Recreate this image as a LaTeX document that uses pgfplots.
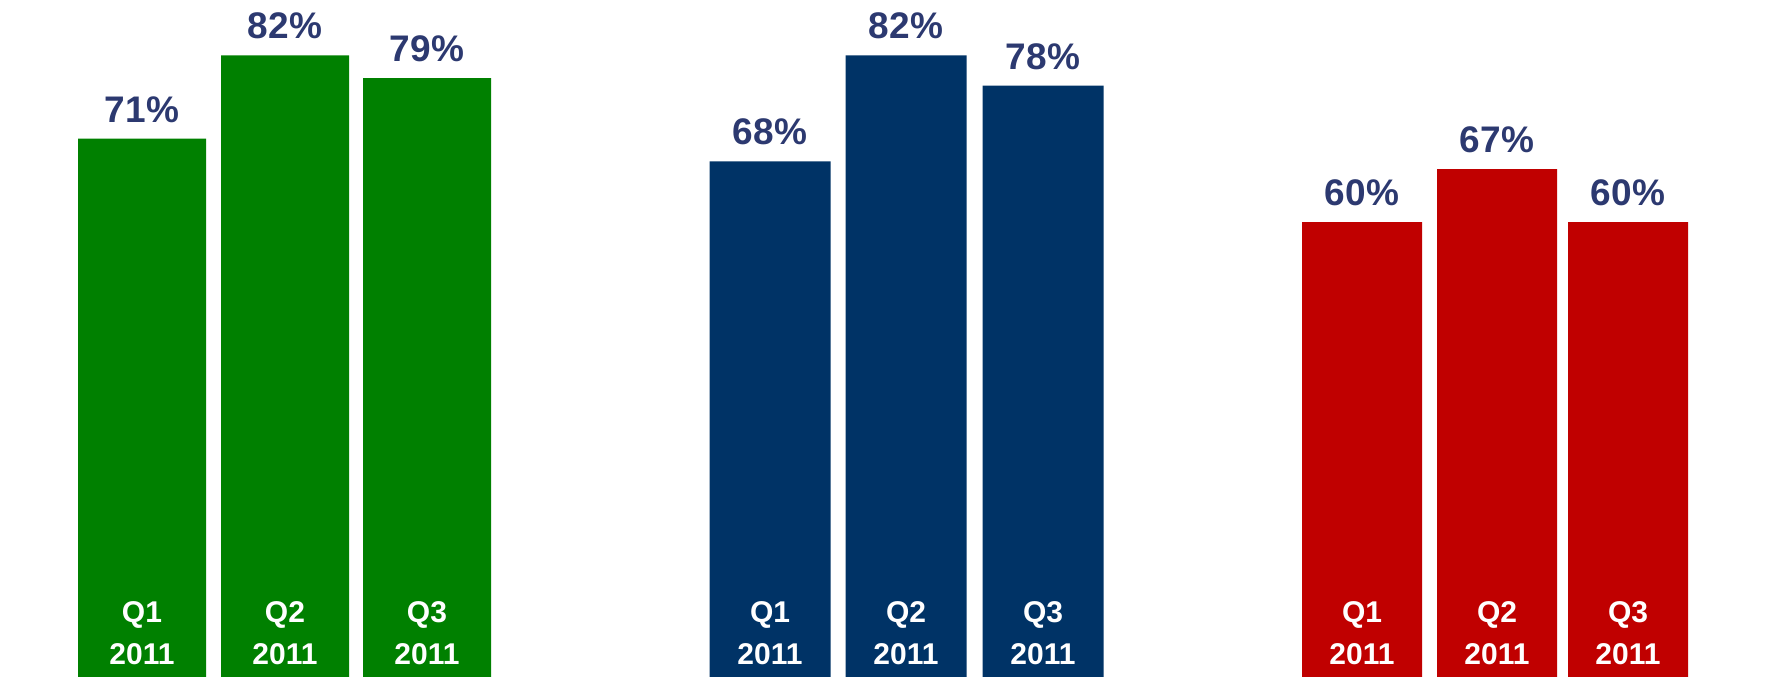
\documentclass[border=0pt]{standalone}
\usepackage{pgfplots}
\pgfplotsset{compat=1.18}
\usepackage{fontspec}
\setmainfont{Liberation Sans}
\definecolor{cgreen}{RGB}{0,128,0}
\definecolor{cnavy}{RGB}{0,51,102}
\definecolor{cred}{RGB}{192,0,0}
\definecolor{clab}{RGB}{44,57,112}
\begin{document}
\begin{tikzpicture}
\begin{axis}[
  width=1769pt, height=677pt, scale only axis,
  xmin=0, xmax=1769, ymin=0, ymax=89.3,
  ybar, bar shift=0pt,
  axis on top,
  axis line style={draw=none}, tick style={draw=none},
  ytick=\empty,
  xtick={142,285,427,770,906,1043,1362,1497,1628},
  xticklabels={Q1\\2011,Q2\\2011,Q3\\2011,Q1\\2011,Q2\\2011,Q3\\2011,Q1\\2011,Q2\\2011,Q3\\2011},
  xticklabel style={font=\fontsize{30}{42}\selectfont\bfseries, text=white, align=center, anchor=south, inner sep=0pt, yshift=16pt},
  /pgf/number format/assume math mode=true,
  nodes near coords={\pgfmathprintnumber{\pgfplotspointmeta}\%},
  every node near coord/.append style={font=\fontsize{37}{44}\selectfont\bfseries, text=clab, anchor=south, inner sep=0pt, yshift=16pt},
  clip=false,
]
\addplot[fill=cgreen, draw=none, bar width=128] coordinates {(142,71) (285,82) (427,79)};
\addplot[fill=cnavy, draw=none, bar width=121] coordinates {(770,68) (906,82) (1043,78)};
\addplot[fill=cred, draw=none, bar width=120] coordinates {(1362,60) (1497,67) (1628,60)};
\end{axis}
\pgfresetboundingbox
\useasboundingbox (current axis.south west) rectangle (current axis.north east);
\end{tikzpicture}
\end{document}
